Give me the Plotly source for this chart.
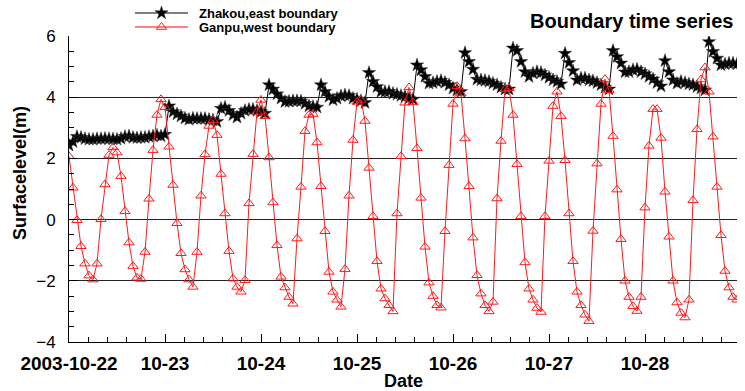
import pandas as pd
import plotly.graph_objects as go

# Hourly water level series, starting 2003-10-22 00:00
start_time = "2003-10-22 00:00"

zhakou_east = [
    2.43, 2.54, 2.71, 2.68, 2.64, 2.62, 2.62, 2.64, 2.64, 2.65, 2.64, 2.63,
    2.62, 2.65, 2.71, 2.73, 2.68, 2.67, 2.68, 2.68, 2.71, 2.73, 2.76, 2.73,
    2.78, 3.71, 3.52, 3.45, 3.38, 3.31, 3.27, 3.31, 3.30, 3.30, 3.30, 3.27,
    3.25, 3.20, 3.63, 3.67, 3.56, 3.42, 3.34, 3.47, 3.56, 3.60, 3.60, 3.56,
    3.52, 3.47, 4.40, 4.26, 4.10, 3.96, 3.85, 3.86, 3.88, 3.88, 3.87, 3.79,
    3.71, 3.69, 3.67, 4.40, 4.18, 4.02, 3.91, 3.96, 4.04, 4.07, 4.05, 3.96,
    3.93, 3.88, 3.82, 4.80, 4.51, 4.34, 4.18, 4.18, 4.18, 4.12, 4.09, 4.05,
    4.02, 3.96, 3.93, 5.05, 4.89, 4.67, 4.45, 4.47, 4.51, 4.54, 4.48, 4.40,
    4.29, 4.23, 4.18, 5.45, 5.16, 4.91, 4.58, 4.56, 4.54, 4.51, 4.45, 4.40,
    4.32, 4.26, 4.26, 5.60, 5.52, 5.16, 4.83, 4.67, 4.78, 4.83, 4.80, 4.72,
    4.64, 4.56, 4.51, 4.43, 5.43, 5.13, 4.86, 4.56, 4.62, 4.62, 4.56, 4.53,
    4.47, 4.40, 4.32, 4.26, 5.52, 5.32, 5.11, 4.82, 4.83, 4.89, 4.91, 4.83,
    4.76, 4.67, 4.59, 4.47, 4.36, 5.19, 4.83, 4.56, 4.45, 4.51, 4.47, 4.43,
    4.40, 4.34, 4.29, 4.23, 5.81, 5.49, 5.27, 5.05, 5.08, 5.11, 5.11, 5.08,
]

ganpu_west = [
    2.07, 1.04, -0.02, -0.87, -1.44, -1.83, -1.96, -1.44, 0.01, 1.15, 2.11, 2.36,
    2.19, 1.42, 0.27, -0.75, -1.52, -1.90, -1.94, -1.06, 0.68, 2.27, 3.42, 3.93,
    3.67, 2.38, 1.13, -0.12, -1.10, -1.63, -1.96, -2.20, -1.06, 0.78, 2.13, 3.06,
    3.25, 2.76, 1.49, 0.20, -1.03, -1.93, -2.20, -2.36, -1.98, 0.53, 2.14, 3.52,
    3.91, 3.38, 2.03, 0.56, -0.84, -1.87, -2.22, -2.53, -2.75, -0.62, 1.07, 2.89,
    3.42, 3.45, 2.52, 1.09, -0.38, -1.71, -2.36, -2.62, -2.85, -1.62, 0.78, 2.60,
    3.85, 3.91, 3.22, 1.69, 0.11, -1.36, -2.26, -2.58, -2.80, -3.00, 0.20, 2.07,
    3.82, 4.32, 3.83, 2.33, 0.71, -0.89, -2.06, -2.50, -2.80, -2.88, -0.38, 1.78,
    3.78, 4.36, 4.12, 2.65, 1.09, -0.59, -1.82, -2.42, -2.80, -3.00, -2.69, 0.69,
    2.57, 4.26, 4.29, 3.42, 1.81, 0.11, -1.40, -2.26, -2.62, -2.89, -3.02, 0.11,
    1.92, 3.71, 4.18, 3.38, 1.94, 0.20, -1.36, -2.36, -2.80, -3.11, -3.32, -0.37,
    1.83, 3.78, 4.59, 4.23, 2.73, 0.98, -0.64, -2.00, -2.53, -2.83, -2.99, -2.53,
    0.39, 2.41, 3.61, 3.61, 2.67, 0.91, -0.56, -2.00, -2.71, -3.05, -3.20, -2.62,
    0.63, 2.95, 4.58, 4.97, 4.18, 2.71, 1.07, -0.51, -1.68, -2.22, -2.53, -2.62,
]

series_names = ["Zhakou,east boundary", "Ganpu,west boundary"]
day_ticks = ["2003-10-22", "2003-10-23", "2003-10-24", "2003-10-25",
             "2003-10-26", "2003-10-27", "2003-10-28"]
day_labels = ["2003-10-22", "10-23", "10-24", "10-25", "10-26", "10-27", "10-28"]
y_ticks = [-4, -2, 0, 2, 4, 6]
y_range = [-4, 6]

times = pd.date_range(start_time, periods=len(ganpu_west), freq="h")

FONT = "Liberation Sans, Arial, Helvetica, sans-serif"
STYLES = [
    dict(line="black", legend_line="#555555", symbol="star", size=10,
         edge="#333333", edge_w=0.5),
    dict(line="#ff1a1a", legend_line="#ff5a5a", symbol="triangle-up-open", size=9,
         edge="#ff1a1a", edge_w=1),
]

# Figure geometry in pixels: the data panel spans x 69..737, y 36..342;
# the strip above it (y 2..36) is a pixel-unit panel that holds the key.
W, H = 745, 391
ML, MR, MT, MB = 69, 8, 2, 49
DATA_TOP = 36
PW, PH = W - ML - MR, H - MT - MB
DATA_FRAC = (H - MB - DATA_TOP) / PH


def px_x(px):
    """Horizontal pixel -> paper fraction."""
    return (px - ML) / PW


def px_y(py):
    """Vertical pixel -> paper fraction."""
    return (H - MB - py) / PH


fig = go.Figure()

for name, values, st in zip(series_names, [zhakou_east, ganpu_west], STYLES):
    fig.add_trace(go.Scatter(
        x=times, y=values, mode="lines+markers", name=name,
        line=dict(color=st["line"], width=1),
        marker=dict(symbol=st["symbol"], size=st["size"], color=st["line"],
                    line=dict(color=st["edge"], width=st["edge_w"])),
        showlegend=False,
    ))

# Key: sample line, symbol and label for each series (pixel-unit panel)
legend_rows = [13, 27]
legend_x0, legend_x1, legend_text_x = 135, 188, 197
annotations = []
for name, st, row in zip(series_names, STYLES, legend_rows):
    fig.add_trace(go.Scatter(
        x=[legend_x0, legend_x1], y=[row, row], xaxis="x2", yaxis="y2",
        mode="lines", showlegend=False, hoverinfo="skip",
        line=dict(color=st["legend_line"], width=1.5),
    ))
    fig.add_trace(go.Scatter(
        x=[(legend_x0 + legend_x1) / 2], y=[row], xaxis="x2", yaxis="y2",
        mode="markers", showlegend=False, hoverinfo="skip", cliponaxis=False,
        marker=dict(symbol=st["symbol"], size=st["size"], color=st["line"],
                    line=dict(color=st["edge"], width=st["edge_w"])),
    ))
    annotations.append(dict(
        text=f"<b>{name}</b>", xref="paper", yref="paper",
        x=px_x(legend_text_x), y=px_y(row + 1), xanchor="left", yanchor="middle",
        showarrow=False, font=dict(family=FONT, size=13, color="black")))

annotations += [
    dict(text="<b>Boundary time series</b>", xref="paper", yref="paper",
         x=px_x(735), y=px_y(21), xanchor="right", yanchor="middle",
         showarrow=False, font=dict(family=FONT, size=20, color="black")),
    dict(text="<b>Date</b>", xref="paper", yref="paper",
         x=0.5, y=px_y(381), xanchor="center", yanchor="middle",
         showarrow=False, font=dict(family=FONT, size=18, color="black")),
    dict(text="<b>Surfacelevel(m)</b>", xref="paper", yref="paper",
         x=px_x(20), y=px_y(173), xanchor="center", yanchor="middle",
         textangle=-90, showarrow=False,
         font=dict(family=FONT, size=18, color="black")),
]

fig.update_layout(
    width=W, height=H,
    margin=dict(l=ML, r=MR, t=MT, b=MB, autoexpand=False),
    paper_bgcolor="white", plot_bgcolor="rgba(0,0,0,0)",
    font=dict(family=FONT, color="black"),
    showlegend=False,
    annotations=annotations,
    xaxis=dict(
        type="date", automargin=False,
        range=[times[0], times[-1]],
        tickvals=pd.to_datetime(day_ticks), ticktext=day_labels,
        tickfont=dict(family=FONT, size=19, weight="bold"),
        ticks="inside", ticklen=8, tickwidth=1, tickcolor="black",
        ticklabelstandoff=4,
        showline=True, linecolor="black", linewidth=1,
        showgrid=False, zeroline=False,
        minor=dict(ticks="inside", ticklen=5, tickcolor="black",
                   tick0="2003-10-22", dtick=4.8 * 3600 * 1000, showgrid=False),
    ),
    yaxis=dict(
        domain=[0, DATA_FRAC],
        range=y_range, automargin=False,
        tickvals=y_ticks,
        tickfont=dict(family=FONT, size=17),
        ticks="inside", ticklen=8, tickwidth=1, tickcolor="black",
        ticklabelstandoff=9,
        showline=True, linecolor="black", linewidth=1,
        showgrid=True, gridcolor="#222222", gridwidth=1,
        zeroline=False,
        minor=dict(ticks="inside", ticklen=5, tickcolor="black", dtick=0.5,
                   showgrid=False),
    ),
    xaxis2=dict(domain=[0, 1], range=[ML, W - MR], anchor="y2",
                visible=False, fixedrange=True),
    yaxis2=dict(domain=[DATA_FRAC, 1], range=[DATA_TOP, MT], anchor="x2",
                visible=False, fixedrange=True),
)

fig.write_html("out.html")
